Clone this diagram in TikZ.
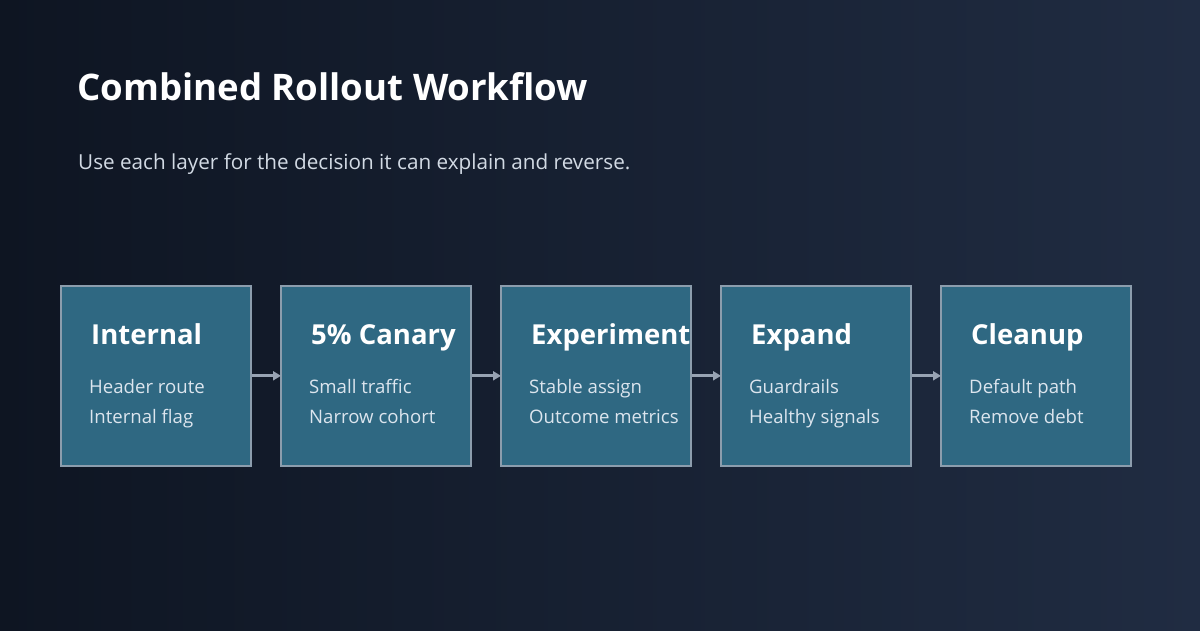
\documentclass[tikz,border=0pt]{standalone}
\usepackage{fontspec}
\setmainfont{Open Sans}
\usetikzlibrary{arrows.meta}
\definecolor{bgL}{HTML}{0E1522}
\definecolor{bgR}{HTML}{202C42}
\definecolor{boxfill}{HTML}{2F6882}
\definecolor{boxline}{HTML}{8C9DAD}
\definecolor{arrowc}{HTML}{98A3B3}
\definecolor{subc}{HTML}{D2DAE4}
\definecolor{linec}{HTML}{DCE5EE}
\tikzset{
  stage/.style={draw=boxline, line width=1.6pt, fill=boxfill, minimum width=190pt, minimum height=180pt, inner sep=0pt, anchor=north west},
  stagetitle/.style={anchor=base west, text=white, font=\fontsize{27.5}{32}\selectfont\bfseries, inner sep=0pt},
  stageline/.style={anchor=base west, text=linec, font=\fontsize{18.6}{22}\selectfont, inner sep=0pt},
  flow/.style={draw=arrowc, line width=3pt, -{Triangle[length=8pt,width=9pt]}, shorten >=-1pt}
}
\begin{document}
\begin{tikzpicture}[x=1pt,y=-1pt]
\shade[left color=bgL, right color=bgR] (0,0) rectangle (1200,630);
\useasboundingbox (0,0) rectangle (1200,630);
\node[anchor=base west, inner sep=0pt, text=white, font=\fontsize{36.6}{44}\selectfont\bfseries] (title) at (77,100) {Combined Rollout Workflow};
\node[anchor=base west, inner sep=0pt, text=subc, font=\fontsize{20.7}{25}\selectfont] (sub) at (78,169) {Use each layer for the decision it can explain and reverse.};
\foreach \i/\x/\t/\a/\b in {1/60/Internal/Header route/Internal flag,
  2/280/5\% Canary/Small traffic/Narrow cohort,
  3/500/Experiment/Stable assign/Outcome metrics,
  4/720/Expand/Guardrails/Healthy signals,
  5/940/Cleanup/Default path/Remove debt}{
  \node[stage] (s\i) at (\x,285) {};
  \node[stagetitle] (t\i) at (\x+31,344) {\t};
  \node[stageline] (a\i) at (\x+29,393) {\a};
  \node[stageline] (b\i) at (\x+29,423) {\b};
}
\foreach \i/\j in {1/2,2/3,3/4,4/5}{
  \draw[flow] (s\i.east) -- (s\j.west);
}
\end{tikzpicture}
\end{document}
